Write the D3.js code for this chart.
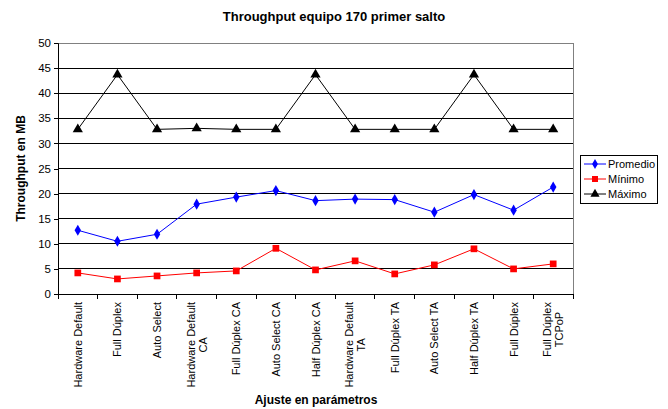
<!DOCTYPE html>
<html lang="en">
<head>
<meta charset="UTF-8">
<title>Throughput equipo 170 primer salto</title>
<script src="https://d3js.org/d3.v7.min.js"></script>
<style>
  body { margin: 0; background: #fff; }
  text { font-family: "Liberation Sans", Arial, sans-serif; fill: #000; }
</style>
</head>
<body>
<script>
var categories = [
  ["Hardware Default"], ["Full Dúplex"], ["Auto Select"], ["Hardware Default", "CA"],
  ["Full Dúplex CA"], ["Auto Select CA"], ["Half Dúplex CA"], ["Hardware Default", "TA"],
  ["Full Dúplex TA"], ["Auto Select TA"], ["Half Dúplex TA"], ["Full Dúplex"],
  ["Full Dúplex", "TCPoP"]
];
var promedio = [12.7, 10.5, 11.9, 17.9, 19.3, 20.6, 18.6, 18.9, 18.8, 16.3, 19.8, 16.7, 21.3];
var minimo   = [4.2, 3.0, 3.6, 4.2, 4.6, 9.1, 4.8, 6.6, 4.0, 5.8, 9.0, 5.0, 6.0];
var maximo   = [32.8, 43.7, 32.8, 33.0, 32.8, 32.8, 43.7, 32.8, 32.8, 32.8, 43.7, 32.8, 32.8];
var yTicks = [0, 5, 10, 15, 20, 25, 30, 35, 40, 45, 50];

var width = 668, height = 409;
var pLeft = 58, pRight = 573, pTop = 43, pBottom = 294;

var svg = d3.select("body").append("svg")
  .attr("width", width).attr("height", height);

var idx = d3.range(categories.length);
var x = d3.scaleBand().domain(idx).range([pLeft, pRight]);
var y = d3.scaleLinear().domain([0, 50]).range([pBottom, pTop]);

// gridlines
svg.append("g").selectAll("line").data(yTicks.slice(1)).enter().append("line")
  .attr("x1", pLeft).attr("x2", pRight)
  .attr("y1", function(d){ return y(d); }).attr("y2", function(d){ return y(d); })
  .attr("stroke", "#000").attr("stroke-width", 1).attr("shape-rendering", "crispEdges");

// plot border
svg.append("line").attr("x1", pRight).attr("x2", pRight).attr("y1", pTop).attr("y2", pBottom)
  .attr("stroke", "#808080").attr("shape-rendering", "crispEdges");
svg.append("line").attr("x1", pLeft).attr("x2", pRight).attr("y1", pTop).attr("y2", pTop)
  .attr("stroke", "#808080").attr("shape-rendering", "crispEdges");

// y axis
var yAxis = d3.axisLeft(y).tickValues(yTicks).tickSize(4).tickPadding(3);
var yg = svg.append("g").attr("transform", "translate(" + pLeft + ",0)").call(yAxis);
yg.select(".domain").attr("stroke", "#000");
yg.selectAll("text").style("font-size", "11.5px").attr("font-family", null);
yg.selectAll("line").attr("shape-rendering", "crispEdges");
yg.attr("font-family", null);

// x axis with ticks at category boundaries
svg.append("line").attr("x1", pLeft - 4).attr("x2", pRight).attr("y1", pBottom).attr("y2", pBottom)
  .attr("stroke", "#000").attr("shape-rendering", "crispEdges");
svg.append("g").selectAll("line").data(d3.range(categories.length + 1)).enter().append("line")
  .attr("x1", function(i){ return pLeft + i * x.bandwidth(); })
  .attr("x2", function(i){ return pLeft + i * x.bandwidth(); })
  .attr("y1", pBottom).attr("y2", pBottom + 5)
  .attr("stroke", "#000").attr("shape-rendering", "crispEdges");

// category labels, rotated
var labelTop = 302, lineGap = 12;
var lab = svg.append("g").selectAll("g").data(categories).enter().append("g");
lab.each(function(lines, i) {
  var g = d3.select(this);
  var cx = x(i) + x.bandwidth() / 2;
  var n = lines.length;
  var texts = lines.map(function(s, j) {
    return g.append("text")
      .attr("transform", "translate(" + (cx + (j - (n - 1) / 2) * lineGap + 4) + "," + labelTop + ") rotate(-90)")
      .style("font-size", "11px").text(s);
  });
  var maxLen = d3.max(texts, function(t){ return t.node().getComputedTextLength(); });
  texts.forEach(function(t) {
    t.attr("text-anchor", "middle").attr("x", -maxLen / 2);
  });
});

// series
var series = [
  { name: "Promedio", values: promedio, color: "#0000ff", symbol: d3.symbolDiamond, size: 36 },
  { name: "Mínimo", values: minimo, color: "#ff0000", symbol: d3.symbolSquare, size: 45 },
  { name: "Máximo", values: maximo, color: "#000000", symbol: d3.symbolTriangle, size: 45 }
];
var cxf = function(d, i){ return x(i) + x.bandwidth() / 2; };
series.forEach(function(s) {
  var line = d3.line().x(cxf).y(function(d){ return y(d); });
  svg.append("path").datum(s.values).attr("d", line)
    .attr("fill", "none").attr("stroke", s.color).attr("stroke-width", 1);
  svg.append("g").selectAll("path").data(s.values).enter().append("path")
    .attr("d", d3.symbol().type(s.symbol).size(s.size))
    .attr("transform", function(d, i){ return "translate(" + cxf(d, i) + "," + y(d) + ")"; })
    .attr("fill", s.color);
});

// legend
var lg = svg.append("g").attr("transform", "translate(580,155)");
lg.append("rect").attr("width", 77).attr("height", 48)
  .attr("fill", "#fff").attr("stroke", "#000").attr("shape-rendering", "crispEdges");
series.forEach(function(s, i) {
  var yy = 9 + i * 15;
  lg.append("line").attr("x1", 4).attr("x2", 26).attr("y1", yy).attr("y2", yy)
    .attr("stroke", s.color);
  lg.append("path").attr("d", d3.symbol().type(s.symbol).size(s.size * 0.8))
    .attr("transform", "translate(15," + yy + ")").attr("fill", s.color);
  lg.append("text").attr("x", 28).attr("y", yy + 4).style("font-size", "11px").text(s.name);
});

// titles
svg.append("text").attr("x", 334).attr("y", 21).attr("text-anchor", "middle")
  .style("font-size", "13px").style("font-weight", "bold").text("Throughput equipo 170 primer salto");
svg.append("text").attr("transform", "translate(25," + ((pTop + pBottom) / 2) + ") rotate(-90)")
  .attr("text-anchor", "middle").style("font-size", "12px").style("font-weight", "bold")
  .text("Throughput en MB");
svg.append("text").attr("x", 316).attr("y", 404).attr("text-anchor", "middle")
  .style("font-size", "12px").style("font-weight", "bold").text("Ajuste en parámetros");
</script>
</body>
</html>
